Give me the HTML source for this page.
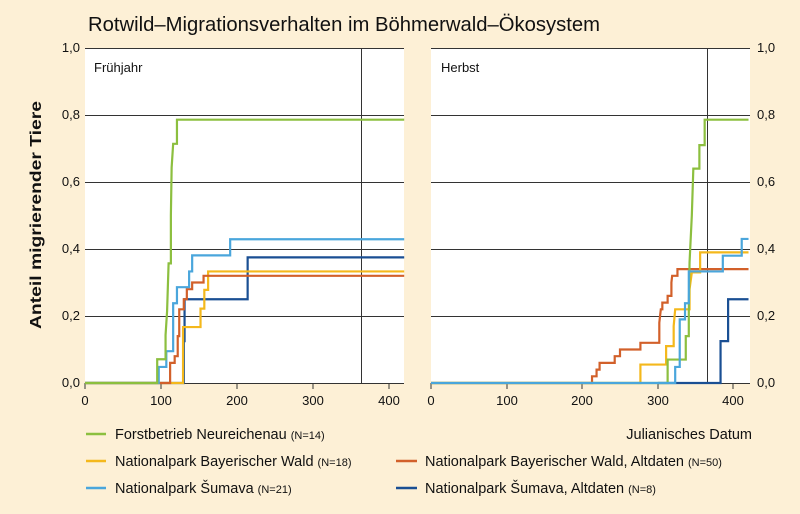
<!DOCTYPE html>
<html><head><meta charset="utf-8"><style>
body{margin:0;background:#fdf0d6;}
svg{display:block;font-family:"Liberation Sans",sans-serif;}
</style></head><body>
<svg width="800" height="514" viewBox="0 0 800 514" xmlns="http://www.w3.org/2000/svg">
<rect width="800" height="514" fill="#fdf0d6"/>
<text x="88" y="31" font-size="20" fill="#111" textLength="512" lengthAdjust="spacingAndGlyphs">Rotwild–Migrationsverhalten im Böhmerwald–Ökosystem</text>
<text transform="translate(41,215) rotate(-90)" text-anchor="middle" font-size="15.5" font-weight="bold" fill="#111" textLength="228" lengthAdjust="spacingAndGlyphs">Anteil migrierender Tiere</text>
<!-- panels -->
<rect x="85" y="48" width="319" height="335" fill="#fff"/>
<rect x="431" y="48" width="319" height="335" fill="#fff"/>
<g stroke="#333" stroke-width="1">
<line x1="85" y1="48.5" x2="404" y2="48.5"/><line x1="85" y1="115.5" x2="404" y2="115.5"/><line x1="85" y1="182.5" x2="404" y2="182.5"/><line x1="85" y1="249.5" x2="404" y2="249.5"/><line x1="85" y1="316.5" x2="404" y2="316.5"/>
<line x1="431" y1="48.5" x2="750" y2="48.5"/><line x1="431" y1="115.5" x2="750" y2="115.5"/><line x1="431" y1="182.5" x2="750" y2="182.5"/><line x1="431" y1="249.5" x2="750" y2="249.5"/><line x1="431" y1="316.5" x2="750" y2="316.5"/>
<line x1="361.5" y1="48" x2="361.5" y2="383"/><line x1="707.5" y1="48" x2="707.5" y2="383"/>
<line x1="85" y1="383.5" x2="404" y2="383.5"/><line x1="431" y1="383.5" x2="750" y2="383.5"/>
<line x1="85" y1="383" x2="85" y2="389"/><line x1="161" y1="383" x2="161" y2="389"/><line x1="237" y1="383" x2="237" y2="389"/><line x1="313" y1="383" x2="313" y2="389"/><line x1="389" y1="383" x2="389" y2="389"/>
<line x1="431" y1="383" x2="431" y2="389"/><line x1="507" y1="383" x2="507" y2="389"/><line x1="582" y1="383" x2="582" y2="389"/><line x1="658" y1="383" x2="658" y2="389"/><line x1="733" y1="383" x2="733" y2="389"/>
</g>
<text x="94" y="72" font-size="13" fill="#111">Frühjahr</text>
<text x="441" y="72" font-size="13" fill="#111">Herbst</text>
<g font-size="13" fill="#111" text-anchor="end">
<text x="80" y="52">1,0</text><text x="80" y="119">0,8</text><text x="80" y="186">0,6</text><text x="80" y="253">0,4</text><text x="80" y="320">0,2</text><text x="80" y="387">0,0</text>
</g>
<g font-size="13" fill="#111">
<text x="757" y="52">1,0</text><text x="757" y="119">0,8</text><text x="757" y="186">0,6</text><text x="757" y="253">0,4</text><text x="757" y="320">0,2</text><text x="757" y="387">0,0</text>
</g>
<g font-size="13" fill="#111" text-anchor="middle">
<text x="85" y="405">0</text><text x="161" y="405">100</text><text x="237" y="405">200</text><text x="313" y="405">300</text><text x="389" y="405">400</text>
<text x="431" y="405">0</text><text x="507" y="405">100</text><text x="582" y="405">200</text><text x="658" y="405">300</text><text x="733" y="405">400</text>
</g>
<!-- left series -->
<g transform="translate(85,383) scale(0.76,-335)" fill="none" stroke-width="2.2">
<polyline vector-effect="non-scaling-stroke" stroke="#1a4f93" points="0,0 130,0 130,0.125 131,0.125 131,0.25 214,0.25 214,0.375 420,0.375"/>
<polyline vector-effect="non-scaling-stroke" stroke="#f4b81c" points="0,0 129,0 129,0.167 152,0.167 152,0.222 157,0.222 157,0.278 162,0.278 162,0.333 420,0.333"/>
<polyline vector-effect="non-scaling-stroke" stroke="#d2602a" points="0,0 112,0 112,0.06 118,0.06 118,0.08 122,0.08 122,0.14 124,0.14 124,0.22 130,0.22 130,0.25 134,0.25 134,0.28 141,0.28 141,0.30 156,0.30 156,0.32 420,0.32"/>
<polyline vector-effect="non-scaling-stroke" stroke="#4aa6dc" points="0,0 97,0 97,0.048 107,0.048 107,0.095 116,0.095 116,0.238 121,0.238 121,0.286 137,0.286 137,0.333 141,0.333 141,0.381 191,0.381 191,0.429 420,0.429"/>
<polyline vector-effect="non-scaling-stroke" stroke="#8cbf3f" points="0,0 95,0 95,0.071 106,0.071 106,0.143 108,0.214 109,0.286 110,0.357 113,0.357 113,0.5 114,0.643 116,0.714 121,0.714 121,0.786 420,0.786"/>
</g>
<!-- right series -->
<g transform="translate(431,383) scale(0.756,-335)" fill="none" stroke-width="2.2">
<polyline vector-effect="non-scaling-stroke" stroke="#1a4f93" points="300,0 383,0 383,0.125 393,0.125 393,0.25 420,0.25"/>
<polyline vector-effect="non-scaling-stroke" stroke="#d2602a" points="0,0 213,0 213,0.02 219,0.02 219,0.04 223,0.04 223,0.06 243,0.06 243,0.08 250,0.08 250,0.10 277,0.10 277,0.12 302,0.12 302,0.18 304,0.22 306,0.22 306,0.24 313,0.24 313,0.26 318,0.26 318,0.30 319,0.32 326,0.32 326,0.34 420,0.34"/>
<polyline vector-effect="non-scaling-stroke" stroke="#f4b81c" points="0,0 277,0 277,0.055 311,0.055 311,0.11 321,0.11 321,0.17 323,0.22 342,0.22 342,0.28 345,0.33 356,0.33 356,0.39 420,0.39"/>
<polyline vector-effect="non-scaling-stroke" stroke="#8cbf3f" points="0,0 313,0 313,0.07 337,0.07 337,0.14 341,0.14 341,0.21 342,0.36 345,0.5 347,0.64 355,0.64 355,0.71 362,0.71 362,0.786 420,0.786"/>
<polyline vector-effect="non-scaling-stroke" stroke="#4aa6dc" points="0,0 323,0 323,0.048 329,0.048 329,0.19 336,0.19 336,0.238 341,0.238 341,0.333 386,0.333 386,0.38 411,0.38 411,0.43 420,0.43"/>
</g>
<!-- legend -->
<g stroke-width="2.5">
<line x1="86" y1="434" x2="106" y2="434" stroke="#8cbf3f"/>
<line x1="86" y1="461" x2="106" y2="461" stroke="#f4b81c"/>
<line x1="86" y1="488" x2="106" y2="488" stroke="#4aa6dc"/>
<line x1="396" y1="461" x2="417" y2="461" stroke="#d2602a"/>
<line x1="396" y1="488" x2="417" y2="488" stroke="#1a4f93"/>
</g>
<g font-size="14.5" fill="#111">
<text x="115" y="439">Forstbetrieb Neureichenau <tspan font-size="11">(N=14)</tspan></text>
<text x="115" y="466">Nationalpark Bayerischer Wald <tspan font-size="11">(N=18)</tspan></text>
<text x="115" y="493">Nationalpark Šumava <tspan font-size="11">(N=21)</tspan></text>
<text x="425" y="466">Nationalpark Bayerischer Wald, Altdaten <tspan font-size="11">(N=50)</tspan></text>
<text x="425" y="493">Nationalpark Šumava, Altdaten <tspan font-size="11">(N=8)</tspan></text>
<text x="752" y="439" text-anchor="end">Julianisches Datum</text>
</g>
</svg>
</body></html>
